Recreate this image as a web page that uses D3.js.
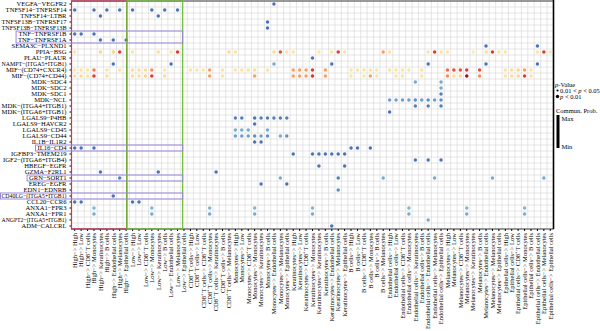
<!DOCTYPE html>
<html>
<head>
<meta charset="utf-8">
<script src="https://cdn.jsdelivr.net/npm/d3@7"></script>
<style>
  body { margin: 0; background: #fff; }
  svg { display: block; }
  text { font-family: "Liberation Serif", "Times New Roman", serif; fill: #000; }
</style>
</head>
<body>
<div id="chart"></div>
<script>
// ligand-receptor pairs (rows, top to bottom)
var pairs = ["VEGFA−VEGFR2", "TNFSF14−TNFRSF14", "TNFSF14−LTBR", "TNFSF13B−TNFRSF17",
  "TNFSF13B−TNFRSF13B", "TNF−TNFRSF1B", "TNF−TNFRSF1A", "SEMA3C−PLXND1", "PPIA−BSG",
  "PLAU−PLAUR", "NAMPT−(ITGA5+ITGB1)", "MIF−(CD74+CXCR4)", "MIF−(CD74+CD44)", "MDK−SDC4",
  "MDK−SDC2", "MDK−SDC1", "MDK−NCL", "MDK−(ITGA4+ITGB1)", "MDK−(ITGA6+ITGB1)", "LGALS9−P4HB",
  "LGALS9−HAVCR2", "LGALS9−CD45", "LGALS9−CD44", "IL1B−IL1R2", "IL16−CD4", "IGFBP3−TMEM219",
  "IGF2−(ITGA6+ITGB4)", "HBEGF−EGFR", "GZMA−F2RL1", "GRN−SORT1", "EREG−EGFR", "EDN1−EDNRB",
  "CD40LG−(ITGA5+ITGB1)", "CCL20−CCR6", "ANXA1−FPR3", "ANXA1−FPR1", "ANGPT2−(ITGA5+ITGB1)",
  "ADM−CALCRL"];

// cell groups and the source->target combinations that appear on the x axis
var cellTypes = ["High", "Low", "CD8⁺ T cells", "Monocytes", "Keratinocytes", "B cells",
  "Endothelial cells", "Melanocytes", "Epithelial cells"];
var absentTargets = {
  "CD8⁺ T cells": ["Endothelial cells", "Epithelial cells"],
  "B cells": ["Keratinocytes", "Endothelial cells", "Epithelial cells"],
  "Epithelial cells": ["Keratinocytes"]
};

// [column index, communication prob] for each row, in the order of pairs
var probs = [
  [[31, .1]],
  [[0, .1], [3, .1], [5, .1], [7, .1], [9, .1], [12, .1], [14, .1], [16, .1]],
  [[4, .1], [13, .1]],
  [[30, .1]],
  [[30, .1]],
  [[0, .1], [1, .1], [3, .1]],
  [[4, .1], [6, .1], [8, .1]],
  [[64, .1], [72, .1]],
  [[0, .58], [4, .62], [6, .62], [7, .88], [9, .58], [13, .6], [15, .58], [16, .88], [24, .6],
   [25, .58], [31, .6], [32, .85], [33, .58], [34, .58], [38, .58], [40, .58], [41, .88], [42, .58],
   [48, .72], [49, .58], [55, .58], [56, .88], [57, .58], [58, .58], [62, .55], [64, .58], [65, .88],
   [66, .58], [67, .58], [72, .58], [73, .88], [74, .58]],
  [[37, .1]],
  [[6, .1], [15, .1], [31, .2], [40, .1], [55, .1], [64, .1], [72, .1]],
  [[0, .58], [1, .58], [2, .58], [3, .78], [5, .58], [7, .58], [9, .6], [10, .6], [11, .6], [12, .75],
   [14, .58], [18, .58], [19, .58], [20, .58], [21, .72], [23, .58], [25, .58], [26, .58], [27, .58],
   [28, .6], [30, .58], [34, .72], [35, .72], [36, .72], [37, .88], [39, .72], [43, .58], [44, .58],
   [45, .58], [46, .58], [47, .58], [49, .58], [50, .58], [51, .58], [52, .58], [54, .58], [58, .8],
   [59, .85], [60, .85], [61, .88], [63, .85], [67, .58], [68, .6], [69, .62], [70, .72], [71, .58]],
  [[0, .6], [1, .6], [2, .58], [3, .88], [5, .6], [9, .6], [10, .6], [11, .62], [12, .88], [14, .6],
   [21, .72], [23, .58], [28, .72], [34, .72], [35, .72], [36, .72], [37, .9], [39, .72], [43, .58],
   [45, .58], [46, .72], [47, .58], [50, .58], [51, .58], [54, .58], [58, .75], [59, .6], [60, .62],
   [61, .99], [63, .75], [67, .58], [68, .6], [69, .62], [70, .88], [71, .58]],
  [[53, .2], [57, .2]],
  [[57, .2]],
  [[57, .12]],
  [[49, .18], [50, .18], [51, .18], [52, .18], [53, .15], [54, .18], [55, .15], [56, .18], [57, .15]],
  [[53, .12], [55, .12], [57, .12]],
  [[49, .1]],
  [[25, .12], [26, .12], [28, .1], [29, .12], [30, .12], [31, .12], [32, .12], [33, .12]],
  [[28, .1]],
  [[25, .2], [26, .2], [27, .2], [30, .2]],
  [[25, .18], [26, .18], [27, .18], [28, .15], [29, .18], [30, .15], [32, .2], [33, .15]],
  [[28, .1], [29, .1]],
  [[0, .1], [1, .1], [3, .1], [43, .1], [44, .1], [46, .1]],
  [[34, .1], [37, .1], [38, .1], [39, .1], [40, .1], [41, .1], [42, .1]],
  [[53, .1], [55, .1], [57, .1]],
  [[38, .1], [42, .1]],
  [[4, .1], [13, .1], [22, .1]],
  [[7, .12], [32, .2], [41, .12], [48, .2], [56, .2], [65, .2], [73, .2]],
  [[29, .1], [33, .1]],
  [[41, .15]],
  [[6, .1]],
  [[0, .1], [1, .1], [9, .1], [10, .1]],
  [[3, .22], [12, .22], [21, .22], [28, .22], [37, .22], [52, .22], [61, .22], [70, .22]],
  [[3, .2], [12, .2], [21, .2], [28, .2], [37, .2], [52, .2], [61, .2], [70, .2]],
  [[55, .2]],
  [[40, .1]]
];

// rows boxed in purple, and the column spans (in column units) of the red / green boxes
var boxedRows = [["TNF−TNFRSF1B", "TNF−TNFRSF1A"], ["IL16−CD4"], ["GRN−SORT1"], ["CD40LG−(ITGA5+ITGB1)"]];
var columnBoxes = [[0, 8.6, "#cf3356"], [8.6, 17.3, "#66bb2e"]];

var W = 600, H = 331;
var plotLeft = 71.5, plotRight = 553.5, plotTop = 1, plotBottom = 229;

var columns = [];
cellTypes.forEach(function (s) {
  var skip = absentTargets[s] || [];
  cellTypes.forEach(function (t) {
    if (skip.indexOf(t) < 0) columns.push(s + "−> " + t);
  });
});

var links = [];
probs.forEach(function (row, i) {
  row.forEach(function (d) {
    links.push({ pair: pairs[i], col: columns[d[0]], prob: d[1] });
  });
});

var svg = d3.select("#chart").append("svg").attr("width", W).attr("height", H);

var x = d3.scaleBand().domain(columns).range([plotLeft, plotRight]);
var y = d3.scaleBand().domain(pairs).range([plotTop, plotBottom]);
var color = function (p) { return d3.interpolateRdYlBu(1 - p); };

// grid between cells
var grid = svg.append("g").attr("stroke", "#d2d2d2").attr("stroke-width", 0.55);
grid.selectAll("line.v").data(columns.slice(1)).enter().append("line")
  .attr("x1", function (d) { return x(d); }).attr("x2", function (d) { return x(d); })
  .attr("y1", plotTop).attr("y2", plotBottom);
grid.selectAll("line.h").data(pairs.slice(1)).enter().append("line")
  .attr("y1", function (d) { return y(d); }).attr("y2", function (d) { return y(d); })
  .attr("x1", plotLeft).attr("x2", plotRight);

// axes
var xAxis = svg.append("g").attr("transform", "translate(0," + plotBottom + ")")
  .call(d3.axisBottom(x).tickSize(2).tickPadding(2));
xAxis.selectAll("text")
  .attr("transform", "rotate(-90)")
  .attr("text-anchor", "end")
  .attr("x", -4).attr("y", 0).attr("dy", "0.35em")
  .style("font-size", "6.5px");
var yAxis = svg.append("g").attr("transform", "translate(" + plotLeft + ",0)")
  .call(d3.axisLeft(y).tickSize(2).tickPadding(3));
var maxLabel = plotLeft - 5 - 1.5;
yAxis.selectAll("text").style("font-size", "6.6px").each(function () {
  if (this.getComputedTextLength() > maxLabel) {
    d3.select(this).attr("textLength", maxLabel).attr("lengthAdjust", "spacingAndGlyphs");
  }
});
svg.selectAll(".domain").remove();

// panel border
svg.append("rect").attr("x", plotLeft).attr("y", plotTop)
  .attr("width", plotRight - plotLeft).attr("height", plotBottom - plotTop)
  .attr("fill", "none").attr("stroke", "#000").attr("stroke-width", 0.8);
svg.append("line").attr("x1", plotRight).attr("x2", plotRight).attr("y1", 0).attr("y2", plotBottom)
  .attr("stroke", "#000").attr("stroke-width", 1.6);

// dots
svg.append("g").selectAll("circle").data(links).enter().append("circle")
  .attr("cx", function (d) { return x(d.col) + x.bandwidth() / 2; })
  .attr("cy", function (d) { return y(d.pair) + y.bandwidth() / 2; })
  .attr("r", 1.75)
  .attr("fill", function (d) { return color(d.prob); });

// red / green column boxes
var bw = x.step();
svg.append("g").selectAll("rect").data(columnBoxes).enter().append("rect")
  .attr("x", function (d) { return plotLeft + d[0] * bw; })
  .attr("width", function (d) { return (d[1] - d[0]) * bw; })
  .attr("y", plotTop).attr("height", plotBottom - plotTop)
  .attr("fill", "none").attr("stroke", function (d) { return d[2]; }).attr("stroke-width", 1.2);

// purple row boxes, starting just before the row label
var boxRight = plotLeft + columnBoxes[1][1] * bw;
var labelLeft = {};
yAxis.selectAll(".tick").each(function (d) {
  labelLeft[d] = d3.select(this).select("text").node().getBoundingClientRect().left;
});
function boxLeft(rows) {
  return Math.max(0.5, d3.min(rows, function (p) { return labelLeft[p]; }) - 2);
}
svg.append("g").selectAll("rect").data(boxedRows).enter().append("rect")
  .attr("x", function (d) { return boxLeft(d); })
  .attr("y", function (d) { return y(d[0]); })
  .attr("width", function (d) { return boxRight - boxLeft(d); })
  .attr("height", function (d) { return y.step() * d.length; })
  .attr("fill", "none").attr("stroke", "#9c86d8").attr("stroke-width", 1);

// legends
var lg = svg.append("g").style("font-size", "6.5px");
lg.append("text").attr("x", 555).attr("y", 87).html("<tspan font-style='italic'>p</tspan>-Value");
lg.append("circle").attr("cx", 557.5).attr("cy", 90.5).attr("r", 1.1).attr("fill", "#000");
lg.append("text").attr("x", 560).attr("y", 92.5).html("0.01 &lt; <tspan font-style='italic'>p</tspan> &lt; 0.05");
lg.append("circle").attr("cx", 557.5).attr("cy", 96.5).attr("r", 1.7).attr("fill", "#000");
lg.append("text").attr("x", 560).attr("y", 98.5).html("<tspan font-style='italic'>p</tspan> &lt; 0.01");
lg.append("text").attr("x", 556).attr("y", 113).text("Commun. Prob.");
lg.append("rect").attr("x", 556.5).attr("y", 115).attr("width", 3).attr("height", 33).attr("fill", "#000");
lg.append("text").attr("x", 561.5).attr("y", 120.5).text("Max");
lg.append("text").attr("x", 561.5).attr("y", 148.5).text("Min");
</script>
</body>
</html>
